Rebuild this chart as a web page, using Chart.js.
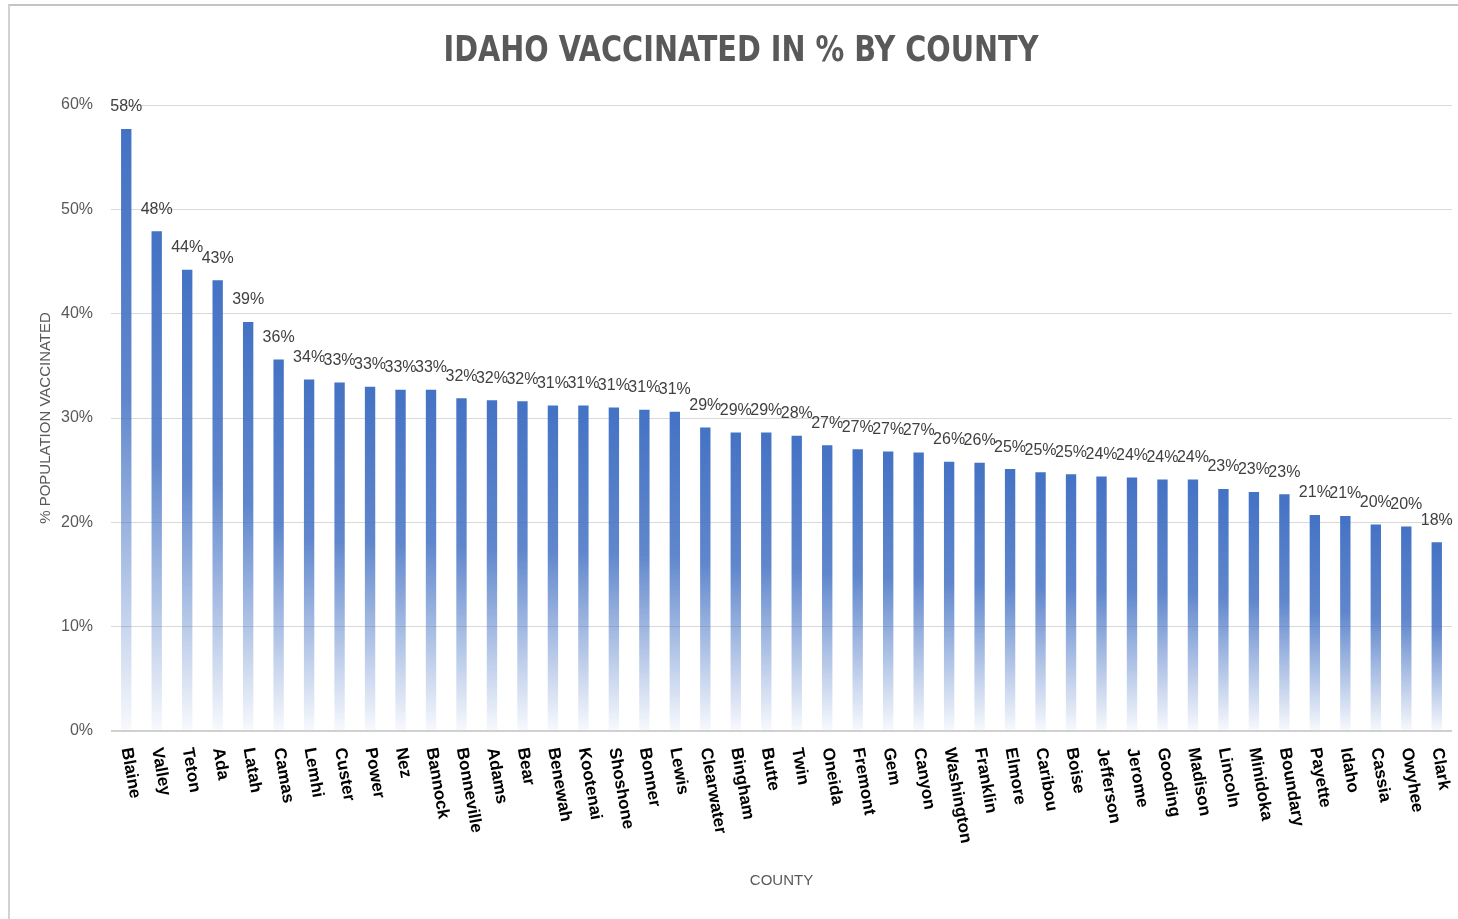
<!DOCTYPE html>
<html>
<head>
<meta charset="utf-8">
<script src="https://cdn.jsdelivr.net/npm/chart.js@4.4.1/dist/chart.umd.min.js"></script>
<style>
  body { margin: 0; background: #fff; }
  #wrap { position: relative; width: 1458px; height: 919px; }
  #frame {
    position: absolute; left: 8px; top: 4px; right: 0; bottom: 0;
    border-top: 2px solid #c4c4c4; border-left: 2px solid #d2d2d2;
    pointer-events: none;
  }
</style>
</head>
<body>
<div id="wrap">
  <canvas id="chart"></canvas>
  <div id="frame"></div>
</div>
<script>
const counties = ["Blaine", "Valley", "Teton", "Ada", "Latah", "Camas", "Lemhi", "Custer", "Power", "Nez",
  "Bannock", "Bonneville", "Adams", "Bear", "Benewah", "Kootenai", "Shoshone", "Bonner", "Lewis", "Clearwater",
  "Bingham", "Butte", "Twin", "Oneida", "Fremont", "Gem", "Canyon", "Washington", "Franklin", "Elmore",
  "Caribou", "Boise", "Jefferson", "Jerome", "Gooding", "Madison", "Lincoln", "Minidoka", "Boundary", "Payette",
  "Idaho", "Cassia", "Owyhee", "Clark"];

// percent of population vaccinated
const vaccinated = [57.7, 47.9, 44.2, 43.2, 39.2, 35.6, 33.7, 33.4, 33.0, 32.7,
  32.7, 31.9, 31.7, 31.6, 31.2, 31.2, 31.0, 30.8, 30.6, 29.1,
  28.6, 28.6, 28.3, 27.4, 27.0, 26.8, 26.7, 25.8, 25.7, 25.1,
  24.8, 24.6, 24.4, 24.3, 24.1, 24.1, 23.2, 22.9, 22.7, 20.7,
  20.6, 19.8, 19.6, 18.1];

const yTicks = [0, 10, 20, 30, 40, 50, 60];

const chartTitle = "IDAHO VACCINATED IN % BY COUNTY";

const labelFont = "'Liberation Sans', Arial, sans-serif";

// title, value labels and the rotated county names
const extraText = {
  id: "extraText",
  afterDatasetsDraw(chart) {
    const ctx = chart.ctx;
    const meta = chart.getDatasetMeta(0);
    ctx.save();
    ctx.font = "16px " + labelFont;
    ctx.fillStyle = "#404040";
    ctx.textAlign = "center";
    ctx.textBaseline = "middle";
    meta.data.forEach((bar, i) => {
      ctx.fillText(Math.round(vaccinated[i]) + "%", bar.x, bar.y - 22);
    });
    ctx.restore();
  },
  afterDraw(chart) {
    const ctx = chart.ctx;
    const xScale = chart.scales.x;
    ctx.save();
    ctx.font = "bold 17px " + labelFont;
    ctx.fillStyle = "#000";
    ctx.textAlign = "left";
    ctx.textBaseline = "middle";
    counties.forEach((name, i) => {
      ctx.save();
      ctx.translate(xScale.getPixelForValue(i), chart.chartArea.bottom + 17);
      ctx.rotate(80 * Math.PI / 180);
      ctx.fillText(name, 0, 0);
      ctx.restore();
    });

    // condensed look of the original title font
    ctx.font = "bold 36px 'Liberation Sans Narrow', 'DejaVu Sans Condensed', sans-serif";
    ctx.fillStyle = "#595959";
    ctx.textAlign = "center";
    ctx.translate(741, 52);
    ctx.scale(595 / ctx.measureText(chartTitle).width, 1);
    ctx.fillText(chartTitle, 0, 0);
    ctx.restore();
  }
};

const barFill = (context) => {
  const chart = context.chart;
  if (!chart.chartArea || context.raw == null) return "#4472c4";
  const y = chart.scales.y;
  const top = y.getPixelForValue(context.raw);
  const bottom = y.getPixelForValue(0);
  const g = chart.ctx.createLinearGradient(0, top, 0, bottom);
  g.addColorStop(0, "rgba(68,114,196,1)");
  g.addColorStop(0.45, "rgba(68,114,196,0.85)");
  g.addColorStop(1, "rgba(68,114,196,0.04)");
  return g;
};

new Chart(document.getElementById("chart"), {
  type: "bar",
  data: {
    labels: counties,
    datasets: [{
      label: "% Population Vaccinated",
      data: vaccinated,
      backgroundColor: barFill,
      borderWidth: 0,
      categoryPercentage: 1,
      barPercentage: 0.34
    }]
  },
  options: {
    responsive: true,
    maintainAspectRatio: false,
    animation: false,
    layout: { padding: { top: 105, right: 6, left: 0, bottom: 0 } },
    plugins: {
      legend: { display: false },
      tooltip: { enabled: false }
    },
    scales: {
      x: {
        grid: { display: false },
        border: { display: false },
        ticks: { display: false },
        title: {
          display: true,
          text: "COUNTY",
          color: "#595959",
          font: { family: labelFont, size: 15 },
          padding: { bottom: 29 }
        },
        afterFit(scale) { scale.height = 188; }
      },
      y: {
        min: 0,
        max: 60,
        afterBuildTicks(scale) { scale.ticks = yTicks.map(v => ({ value: v })); },
        grid: {
          drawTicks: false,
          color: (c) => c.tick && c.tick.value === 0 ? "#d0d0d0" : "#d9d9d9",
          lineWidth: (c) => c.tick && c.tick.value === 0 ? 2 : 1
        },
        border: { display: false },
        ticks: {
          padding: 18,
          color: "#595959",
          font: { family: labelFont, size: 16 },
          callback: (v) => v + "%"
        },
        title: {
          display: true,
          text: "% POPULATION VACCINATED",
          color: "#595959",
          font: { family: labelFont, size: 15 },
          padding: { top: 37 }
        },
        afterFit(scale) { scale.width = 111; }
      }
    }
  },
  plugins: [extraText]
});
</script>
</body>
</html>
